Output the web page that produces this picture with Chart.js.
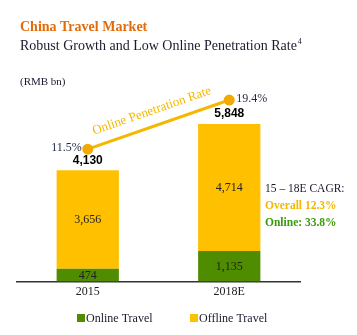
<!DOCTYPE html>
<html>
<head>
<meta charset="utf-8">
<script src="https://cdn.jsdelivr.net/npm/chart.js@4.4.1/dist/chart.umd.min.js"></script>
<style>
  html, body { margin: 0; padding: 0; background: #fff; }
  #wrap { width: 357px; height: 335px; }
</style>
</head>
<body>
<div id="wrap"><canvas id="travelChart" width="357" height="335"></canvas></div>
<script>
const years = ["2015", "2018E"];
const onlineTravel = [474, 1135];
const offlineTravel = [3656, 4714];
const totals = [4130, 5848];
const penetrationRate = [11.5, 19.4];

const serif = "'Liberation Serif', 'DejaVu Serif', serif";
const sans = "'Liberation Sans', Arial, sans-serif";
const gold = "#FFC000";
const lineGold = "#F5B700";
const green = "#4F8C00";

const fmt = (v) => v.toLocaleString("en-US");

// texts, labels and the custom legend
const labelPlugin = {
  id: "labels",
  afterDatasetsDraw(chart) {
    const ctx = chart.ctx;
    const onMeta = chart.getDatasetMeta(0);
    const offMeta = chart.getDatasetMeta(1);
    const lineMeta = chart.getDatasetMeta(2);
    ctx.save();

    // values inside the bars
    ctx.fillStyle = "#222";
    ctx.font = "12px " + serif;
    ctx.textAlign = "center";
    ctx.textBaseline = "middle";
    onMeta.data.forEach((bar, i) => {
      ctx.fillText(fmt(onlineTravel[i]), bar.x, (bar.y + bar.base) / 2 + 1);
    });
    offMeta.data.forEach((bar, i) => {
      ctx.fillText(fmt(offlineTravel[i]), bar.x, (bar.y + bar.base) / 2);
    });

    // totals above bars
    ctx.fillStyle = "#000";
    ctx.font = "bold 12px " + sans;
    offMeta.data.forEach((bar, i) => {
      ctx.fillText(fmt(totals[i]), bar.x, bar.y - 10);
    });

    // penetration rate labels
    ctx.fillStyle = "#1f2a44";
    ctx.font = "12px " + serif;
    const p0 = lineMeta.data[0], p1 = lineMeta.data[1];
    ctx.textAlign = "right";
    ctx.fillText(penetrationRate[0].toFixed(1) + "%", p0.x - 6, p0.y - 1);
    ctx.textAlign = "left";
    ctx.fillText(penetrationRate[1].toFixed(1) + "%", p1.x + 7, p1.y - 1);

    // rotated caption along the line
    const ang = Math.atan2(p1.y - p0.y, p1.x - p0.x);
    ctx.translate((p0.x + p1.x) / 2 - 2, (p0.y + p1.y) / 2);
    ctx.rotate(ang);
    ctx.fillStyle = lineGold;
    ctx.font = "13px " + serif;
    ctx.textAlign = "center";
    ctx.textBaseline = "alphabetic";
    ctx.fillText("Online Penetration Rate", 0, -11);
    ctx.restore();
  },
  afterDraw(chart) {
    const ctx = chart.ctx;
    ctx.save();
    ctx.textBaseline = "alphabetic";
    ctx.textAlign = "left";

    // title block
    ctx.fillStyle = "#E36C0A";
    ctx.font = "bold 14px " + serif;
    ctx.fillText("China Travel Market", 20, 31);
    ctx.fillStyle = "#1a1a2e";
    ctx.font = "14px " + serif;
    const sub = "Robust Growth and Low Online Penetration Rate";
    ctx.fillText(sub, 20, 50);
    const w = ctx.measureText(sub).width;
    ctx.font = "8px " + serif;
    ctx.fillText("4", 20 + w + 1, 44);
    ctx.font = "11px " + serif;
    ctx.fillText("(RMB bn)", 20, 85);

    // CAGR notes
    ctx.fillStyle = "#1a1a2e";
    ctx.font = "11.5px " + serif;
    ctx.fillText("15 \u2013 18E CAGR:", 265, 192);
    ctx.fillStyle = lineGold;
    ctx.font = "bold 11.5px " + serif;
    ctx.fillText("Overall 12.3%", 265, 209);
    ctx.fillStyle = "#3C9A0A";
    ctx.fillText("Online: 33.8%", 265, 226);

    // legend
    ctx.font = "12px " + serif;
    ctx.fillStyle = green;
    ctx.fillRect(77, 314, 8, 8);
    ctx.fillStyle = "#1a1a2e";
    ctx.fillText("Online Travel", 86, 322);
    ctx.fillStyle = gold;
    ctx.fillRect(190, 314, 8, 8);
    ctx.fillStyle = "#1a1a2e";
    ctx.fillText("Offline Travel", 199, 322);
    ctx.restore();
  }
};

new Chart(document.getElementById("travelChart").getContext("2d"), {
  data: {
    labels: years,
    datasets: [
      {
        type: "bar",
        label: "Online Travel",
        data: onlineTravel,
        backgroundColor: green,
        stack: "total",
        order: 1,
        yAxisID: "y",
      },
      {
        type: "bar",
        label: "Offline Travel",
        data: offlineTravel,
        backgroundColor: gold,
        stack: "total",
        order: 1,
        yAxisID: "y",
      },
      {
        type: "line",
        label: "Online Penetration Rate",
        data: penetrationRate,
        borderColor: lineGold,
        borderWidth: 3,
        pointRadius: 4,
        pointBackgroundColor: "#F2A900",
        pointBorderColor: "#F2A900",
        order: 0,
        yAxisID: "y2",
      },
    ],
  },
  options: {
    responsive: false,
    animation: false,
    layout: { padding: { left: 17, right: 57, top: 93, bottom: 33 } },
    datasets: { bar: { barPercentage: 1, categoryPercentage: 0.44 } },
    plugins: { legend: { display: false }, tooltip: { enabled: false } },
    scales: {
      x: {
        stacked: true,
        grid: { display: false, drawTicks: false, tickLength: 0 },
        border: { color: "#333", width: 1.5 },
        ticks: { color: "#222", font: { family: serif, size: 12 }, padding: 3 },
      },
      y: { stacked: true, display: false, min: 0, max: 7000 },
      y2: { display: false, min: -9.79, max: 20.53 },
    },
  },
  plugins: [labelPlugin],
});
</script>
</body>
</html>
